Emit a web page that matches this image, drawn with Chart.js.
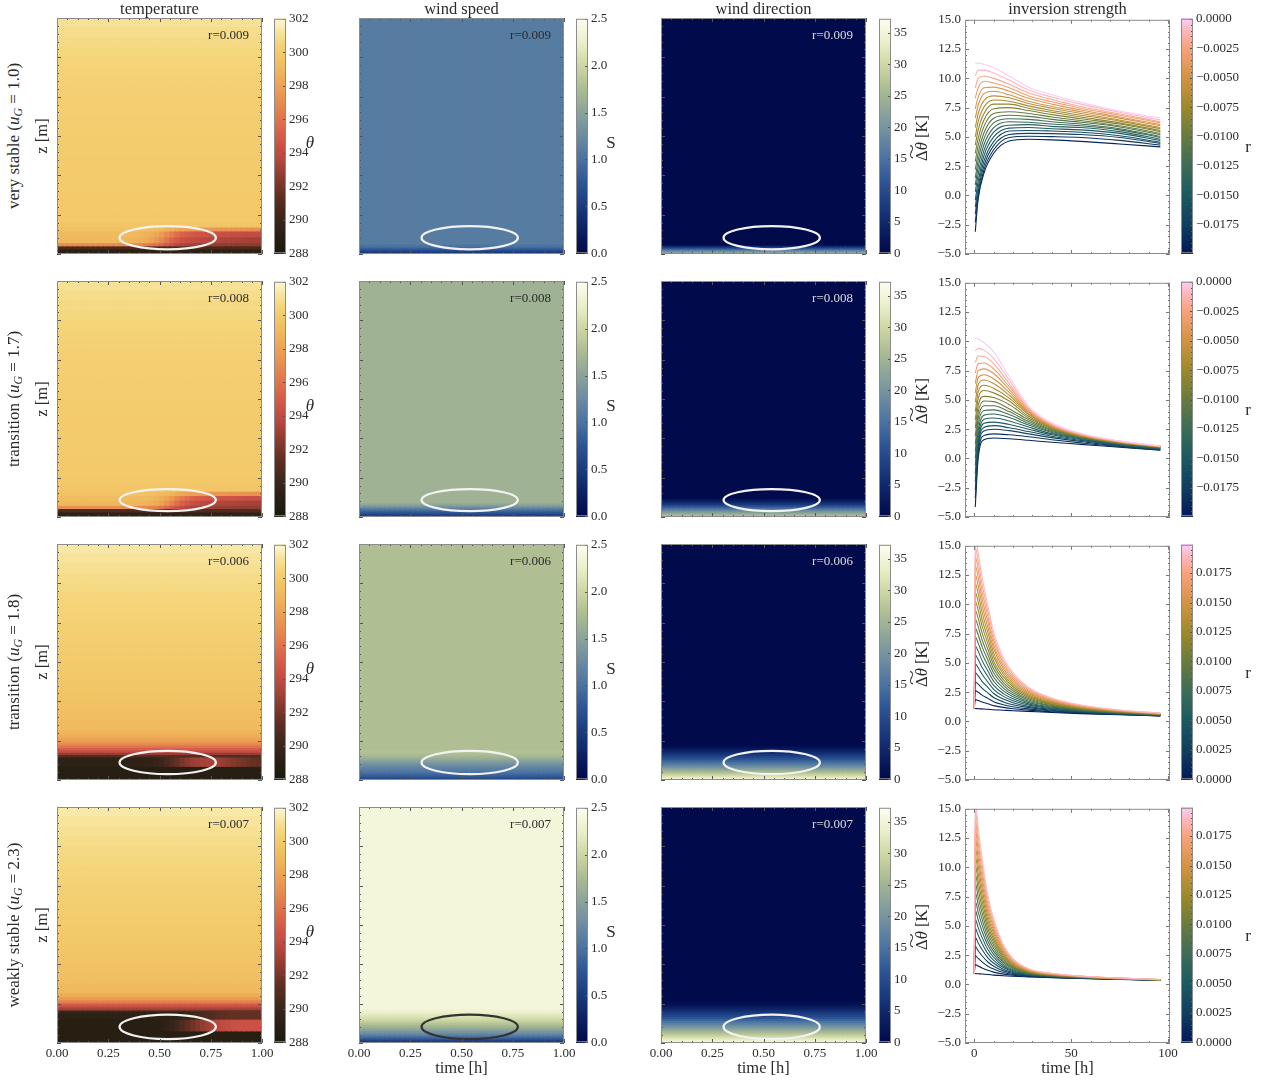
<!DOCTYPE html>
<html>
<head>
<meta charset="UTF-8">
<title>Inversion panels</title>
<script src="https://cdn.jsdelivr.net/npm/chart.js"></script>
<style>
  body { margin: 0; background: #fff; font-family: "Liberation Serif", "DejaVu Serif", serif; color: #2b2b2b; }
  #fig { position: relative; width: 1270px; height: 1083px; overflow: hidden; background: #fff; }
  .box { position: absolute; }
  .lbl { position: absolute; white-space: nowrap; font-size: 16.5px; line-height: 1; color: #2b2b2b; }
  .ctr { transform: translate(-50%, -50%); }
  .rot { transform: translate(-50%, -50%) rotate(-90deg); }
  sub { font-size: 0.7em; vertical-align: -0.25em; }
  .tl { position: relative; display: inline-block; }
  .tl .tw { position: absolute; left: 0; right: 0; top: -0.62em; text-align: center; transform: scaleX(1.7); }
</style>
</head>
<body>
<div id="fig"></div>
<script>
// ---------------- data ----------------
const colTitles = ['temperature', 'wind speed', 'wind direction', 'inversion strength'];
const rowNames = ['very stable', 'transition', 'transition', 'weakly stable'];
const rowUG = ['1.0', '1.7', '1.8', '2.3'];
const rowR = ['0.009', '0.008', '0.006', '0.007'];

// time bins (centres, normalised time) of the heat maps
const timeBins = [0.0125, 0.0375, 0.0625, 0.0875, 0.1125, 0.1375, 0.1625, 0.1875, 0.2125, 0.2375,
                  0.2625, 0.2875, 0.3125, 0.3375, 0.3625, 0.3875, 0.4125, 0.4375, 0.4625, 0.4875,
                  0.5125, 0.5375, 0.5625, 0.5875, 0.6125, 0.6375, 0.6625, 0.6875, 0.7125, 0.7375,
                  0.7625, 0.7875, 0.8125, 0.8375, 0.8625, 0.8875, 0.9125, 0.9375, 0.9625, 0.9875];
const timeTicks = [0, 0.25, 0.5, 0.75, 1];
const heightTicks = [0, 10, 20, 30, 40, 50, 60];

// heat map bands: [z bottom, z top, value (one, or one per time bin)]
const tempVS = [
  [0, 1.0, 289.2], [1.0, 1.8, 290.6],
  [1.8, 2.6, [297.0,297.0,297.0,297.0,297.0,297.0,297.0,297.0,297.0,297.0,297.0,297.0,296.95,296.9,296.85,296.8,296.6,296.4,296.1,295.8,
              295.3,294.8,294.3,293.8,293.4,293.2,293.05,292.95,292.9,292.85,292.8,292.75,292.7,292.7,292.65,292.6,292.6,292.6,292.6,292.6]],
  [2.6, 4.1, [299.0,299.0,299.0,299.0,299.0,299.0,299.0,299.0,299.0,299.0,299.0,299.0,298.95,298.9,298.85,298.8,298.65,298.4,298.0,297.5,
              296.9,296.1,295.4,294.8,294.4,294.2,294.0,293.9,293.8,293.7,293.6,293.5,293.4,293.35,293.3,293.25,293.2,293.15,293.1,293.1]],
  [4.1, 5.6, [299.2,299.2,299.2,299.2,299.2,299.2,299.2,299.2,299.2,299.2,299.2,299.2,299.15,299.1,299.05,299.0,298.9,298.7,298.45,298.1,
              297.6,297.0,296.4,295.8,295.3,295.0,294.8,294.65,294.55,294.45,294.4,294.35,294.3,294.25,294.2,294.15,294.1,294.05,294.0,294.0]],
  [5.6, 6.6, [299.6,299.6,299.6,299.6,299.6,299.6,299.6,299.6,299.6,299.6,299.6,299.6,299.6,299.6,299.55,299.5,299.45,299.4,299.3,299.15,
              298.95,298.7,298.45,298.2,298.0,297.85,297.75,297.65,297.6,297.55,297.5,297.45,297.4,297.35,297.3,297.3,297.25,297.2,297.2,297.2]],
  [6.6, 8, 299.75], [8, 10, 299.85], [10, 15, 299.92], [15, 20, 299.97], [20, 25, 300.02], [25, 30, 300.07],
  [30, 35, 300.12], [35, 40, 300.18], [40, 42.5, 300.25], [42.5, 45, 300.33], [45, 47.5, 300.42], [47.5, 50, 300.52],
  [50, 52.5, 300.63], [52.5, 55, 300.75], [55, 57.5, 300.9], [57.5, 60, 301.1]
];
const tempT1 = [
  [0, 1.0, 289.3], [1.0, 1.9, 290.8],
  [1.9, 2.7, [297.2,297.2,297.2,297.2,297.2,297.2,297.2,297.2,297.2,297.2,297.2,297.2,297.2,297.2,297.15,297.1,297.0,296.9,296.7,296.5,
              296.1,295.6,295.0,294.5,294.0,293.6,293.3,293.1,293.0,292.95,292.9,292.85,292.8,292.8,292.75,292.7,292.7,292.7,292.7,292.7]],
  [2.7, 4.0, [299.0,299.0,299.0,299.0,299.0,299.0,299.0,299.0,299.0,299.0,299.0,299.0,299.0,299.0,298.95,298.9,298.85,298.75,298.6,298.35,
              297.9,297.3,296.6,295.9,295.2,294.7,294.3,294.05,293.85,293.7,293.6,293.5,293.45,293.4,293.35,293.3,293.25,293.2,293.2,293.2]],
  [4.0, 5.2, [299.3,299.3,299.3,299.3,299.3,299.3,299.3,299.3,299.3,299.3,299.3,299.3,299.3,299.3,299.25,299.2,299.15,299.1,299.0,298.8,
              298.5,298.1,297.5,296.9,296.3,295.8,295.4,295.1,294.95,294.8,294.7,294.6,294.55,294.5,294.45,294.4,294.35,294.3,294.3,294.3]],
  [5.2, 6.3, [299.6,299.6,299.6,299.6,299.6,299.6,299.6,299.6,299.6,299.6,299.6,299.6,299.6,299.6,299.6,299.6,299.55,299.5,299.45,299.35,
              299.2,299.0,298.75,298.5,298.25,298.05,297.9,297.8,297.7,297.65,297.6,297.55,297.5,297.45,297.4,297.4,297.35,297.3,297.3,297.3]],
  [6.3, 8, 299.75], [8, 10, 299.85], [10, 15, 299.92], [15, 20, 299.97], [20, 25, 300.02], [25, 30, 300.07],
  [30, 35, 300.12], [35, 40, 300.18], [40, 42.5, 300.25], [42.5, 45, 300.33], [45, 47.5, 300.42], [47.5, 50, 300.52],
  [50, 52.5, 300.63], [52.5, 55, 300.75], [55, 57.5, 300.9], [57.5, 60, 301.1]
];
const tempT2 = [
  [0, 3.2, 289.0],
  [3.2, 5.6, [289.3,289.3,289.3,289.3,289.3,289.3,289.3,289.3,289.3,289.3,289.3,289.3,289.3,289.3,289.3,289.3,289.35,289.45,289.6,289.8,
              290.1,290.5,291.0,291.5,292.0,292.45,292.8,293.0,293.15,293.2,293.15,293.0,292.8,292.55,292.3,292.1,291.9,291.7,291.55,291.4]],
  [5.6, 6.2, 290.8], [6.2, 6.8, 292.8], [6.8, 7.4, 294.2], [7.4, 8.0, 295.1], [8.0, 8.6, 296.0],
  [8.6, 9.2, 296.9], [9.2, 9.8, 297.5], [9.8, 10.6, 298.0], [10.6, 11.5, 298.5], [11.5, 12.5, 298.85],
  [12.5, 15, 299.1], [15, 17.5, 299.35], [17.5, 20, 299.5], [20, 22.5, 299.63], [22.5, 25, 299.74],
  [25, 27.5, 299.84], [27.5, 30, 299.93], [30, 32.5, 300.02], [32.5, 35, 300.1], [35, 37.5, 300.19],
  [37.5, 40, 300.28], [40, 42.5, 300.38], [42.5, 45, 300.48], [45, 47.5, 300.6], [47.5, 50, 300.72],
  [50, 52.5, 300.85], [52.5, 55, 300.99], [55, 57.5, 301.15], [57.5, 60, 301.35]
];
const tempWS = [
  [0, 2.8, 289.0],
  [2.8, 5.8, [289.0,289.0,289.0,289.0,289.0,289.0,289.0,289.0,289.0,289.0,289.0,289.0,289.0,289.0,289.0,289.0,289.0,289.0,289.0,289.0,
              289.2,289.45,289.8,290.25,290.8,291.3,291.8,292.25,292.7,293.05,293.4,293.7,293.95,294.1,294.25,294.35,294.4,294.4,294.4,294.4]],
  [5.8, 7.9, [289.3,289.3,289.3,289.3,289.3,289.3,289.3,289.3,289.3,289.3,289.3,289.3,289.3,289.3,289.3,289.3,289.3,289.3,289.3,289.3,
              289.3,289.3,289.3,289.3,289.55,289.8,290.05,290.3,290.55,290.8,291.0,291.2,291.35,291.45,291.5,291.5,291.5,291.5,291.5,291.5]],
  [7.9, 8.3, 291.8], [8.3, 8.9, 293.3], [8.9, 9.6, 294.4], [9.6, 10.1, 295.6], [10.1, 10.7, 296.7],
  [10.7, 11.5, 297.6], [11.5, 12.5, 298.4], [12.5, 15, 299.05], [15, 17.5, 299.35], [17.5, 20, 299.52],
  [20, 22.5, 299.65], [22.5, 25, 299.76], [25, 27.5, 299.86], [27.5, 30, 299.95], [30, 32.5, 300.04],
  [32.5, 35, 300.12], [35, 37.5, 300.21], [37.5, 40, 300.31], [40, 42.5, 300.41], [42.5, 45, 300.51],
  [45, 47.5, 300.63], [47.5, 50, 300.75], [50, 52.5, 300.89], [52.5, 55, 301.03], [55, 57.5, 301.2], [57.5, 60, 301.4]
];
const speedVS = [[0, 0.5, 0.5], [0.5, 1, 0.68], [1, 1.5, 0.85], [1.5, 2.2, 1.0], [2.2, 60, 1.1]];
const speedT1 = [[0, 0.5, 0.55], [0.5, 1, 0.7], [1, 1.5, 0.85], [1.5, 2, 1.05], [2, 2.5, 1.25],
                 [2.5, 3, 1.45], [3, 3.5, 1.58], [3.5, 60, 1.66]];
const speedT2 = [[0, 0.5, 0.65], [0.5, 1, 0.8], [1, 1.5, 0.9], [1.5, 2, 1.0], [2, 2.5, 1.08], [2.5, 3, 1.15],
                 [3, 3.5, 1.22], [3.5, 4, 1.3], [4, 4.5, 1.4], [4.5, 5, 1.5], [5, 5.5, 1.6], [5.5, 6, 1.68],
                 [6, 6.5, 1.75], [6.5, 7, 1.8], [7, 7.5, 1.81], [7.5, 60, 1.78]];
const speedWS = [[0, 0.5, 0.5], [0.5, 1, 0.72], [1, 1.5, 0.92], [1.5, 2, 1.1], [2, 2.5, 1.25], [2.5, 3, 1.38],
                 [3, 3.5, 1.5], [3.5, 4, 1.62], [4, 4.5, 1.72], [4.5, 5, 1.82], [5, 5.5, 1.92], [5.5, 6, 2.0],
                 [6, 6.5, 2.08], [6.5, 7, 2.15], [7, 7.5, 2.22], [7.5, 8, 2.28], [8, 8.5, 2.33], [8.5, 60, 2.37]];
const dirVS = [[0, 0.5, 22], [0.5, 1, 17], [1, 1.5, 11], [1.5, 2, 5], [2, 60, 0.3]];
const dirT1 = [[0, 0.5, 26], [0.5, 1, 23], [1, 1.5, 20], [1.5, 2, 16.5], [2, 2.5, 13], [2.5, 3, 9.5],
               [3, 3.5, 6.5], [3.5, 4, 4], [4, 4.5, 2], [4.5, 60, 0.3]];
const dirT2 = [[0, 0.5, 34], [0.5, 1, 31.5], [1, 1.5, 29], [1.5, 2, 26.5], [2, 2.5, 24], [2.5, 3, 21.5],
               [3, 3.5, 19], [3.5, 4, 16.8], [4, 4.5, 14.7], [4.5, 5, 12.7], [5, 5.5, 10.8], [5.5, 6, 9],
               [6, 6.5, 7.2], [6.5, 7, 5.5], [7, 7.5, 3.9], [7.5, 8, 2.5], [8, 8.5, 1.3], [8.5, 60, 0.3]];
const dirWS = [[0, 0.5, 35], [0.5, 1, 33], [1, 1.5, 31], [1.5, 2, 29], [2, 2.5, 27], [2.5, 3, 25],
               [3, 3.5, 23], [3.5, 4, 21], [4, 4.5, 19], [4.5, 5, 17], [5, 5.5, 15], [5.5, 6, 13],
               [6, 6.5, 11.2], [6.5, 7, 9.5], [7, 7.5, 8], [7.5, 8, 6.5], [8, 8.5, 5], [8.5, 9, 3.7],
               [9, 9.5, 2.5], [9.5, 10, 1.5], [10, 10.5, 0.7], [10.5, 60, 0.3]];

// marked region per row: [centre time, centre z, half width, half height]
const ellipseRows = [[0.54, 4.15, 0.235, 2.95], [0.54, 4.3, 0.235, 2.8],
                     [0.54, 4.45, 0.235, 2.95], [0.54, 4.1, 0.235, 3.1]];

// inversion strength, rows 1-2: one array per r (0, -0.001 ... -0.019) at invTimesA
const invTimesA = [0.5, 2, 5, 10, 18, 28, 40, 55, 75, 96];
const rNeg = [0, -0.001, -0.002, -0.003, -0.004, -0.005, -0.006, -0.007, -0.008, -0.009,
              -0.010, -0.011, -0.012, -0.013, -0.014, -0.015, -0.016, -0.017, -0.018, -0.019];
const invVS = [
  [11.3, 11.3, 11.2, 10.9, 10.2, 9.25, 8.6, 7.95, 7.2, 6.6],
  [10.2, 10.7, 10.7, 10.45, 9.85, 9.0, 8.4, 7.8, 7.1, 6.45],
  [9.2, 10.0, 10.2, 10.0, 9.5, 8.75, 8.2, 7.6, 6.95, 6.3],
  [8.3, 9.2, 9.75, 9.6, 9.2, 8.5, 8.0, 7.45, 6.85, 6.2],
  [7.4, 8.4, 9.2, 9.25, 8.9, 8.3, 7.8, 7.3, 6.7, 6.05],
  [6.6, 7.7, 8.7, 8.9, 8.6, 8.05, 7.6, 7.15, 6.6, 5.95],
  [5.8, 7.0, 8.1, 8.5, 8.35, 7.85, 7.45, 7.0, 6.45, 5.8],
  [5.0, 6.3, 7.55, 8.15, 8.05, 7.65, 7.25, 6.85, 6.35, 5.7],
  [4.3, 5.6, 7.0, 7.8, 7.8, 7.45, 7.1, 6.7, 6.2, 5.55],
  [3.6, 4.9, 6.45, 7.4, 7.5, 7.25, 6.9, 6.55, 6.1, 5.45],
  [2.9, 4.25, 5.9, 7.0, 7.15, 7.0, 6.7, 6.4, 5.95, 5.3],
  [2.2, 3.6, 5.35, 6.6, 6.85, 6.75, 6.5, 6.25, 5.85, 5.2],
  [1.5, 3.0, 4.85, 6.2, 6.55, 6.5, 6.3, 6.1, 5.7, 5.05],
  [0.9, 2.4, 4.35, 5.8, 6.3, 6.25, 6.1, 5.95, 5.6, 4.95],
  [0.3, 1.8, 3.85, 5.4, 6.0, 6.05, 5.9, 5.8, 5.45, 4.8],
  [-0.4, 1.2, 3.4, 5.0, 5.75, 5.8, 5.7, 5.6, 5.3, 4.7],
  [-1.0, 0.7, 2.95, 4.6, 5.5, 5.55, 5.5, 5.4, 5.1, 4.55],
  [-1.6, 0.3, 2.55, 4.25, 5.2, 5.3, 5.28, 5.2, 4.95, 4.45],
  [-2.3, -0.1, 2.2, 3.9, 4.95, 5.05, 5.02, 4.95, 4.7, 4.3],
  [-3.1, -0.3, 1.9, 3.6, 4.65, 4.8, 4.75, 4.62, 4.4, 4.15]
];
const invT1 = [
  [10.25, 10.2, 9.9, 9.1, 7.0, 4.5, 3.05, 2.15, 1.5, 1.07],
  [9.2, 9.4, 9.25, 8.55, 6.7, 4.35, 2.95, 2.1, 1.48, 1.05],
  [8.2, 8.75, 8.7, 8.1, 6.4, 4.25, 2.9, 2.07, 1.46, 1.04],
  [7.3, 8.1, 8.15, 7.65, 6.15, 4.15, 2.85, 2.04, 1.44, 1.03],
  [6.4, 7.5, 7.65, 7.25, 5.9, 4.05, 2.8, 2.01, 1.42, 1.02],
  [5.6, 6.9, 7.15, 6.8, 5.65, 3.95, 2.75, 1.98, 1.4, 1.01],
  [4.8, 6.3, 6.7, 6.4, 5.4, 3.85, 2.7, 1.95, 1.38, 1.0],
  [4.0, 5.7, 6.25, 6.0, 5.15, 3.75, 2.65, 1.92, 1.36, 0.99],
  [3.3, 5.1, 5.8, 5.6, 4.9, 3.6, 2.6, 1.9, 1.34, 0.98],
  [2.6, 4.5, 5.3, 5.2, 4.6, 3.45, 2.52, 1.87, 1.33, 0.97],
  [1.9, 3.95, 4.9, 4.85, 4.25, 3.3, 2.45, 1.85, 1.32, 0.95],
  [1.2, 3.4, 4.5, 4.5, 4.0, 3.15, 2.38, 1.82, 1.3, 0.93],
  [0.6, 2.9, 4.1, 4.15, 3.75, 3.0, 2.3, 1.78, 1.27, 0.9],
  [0.0, 2.4, 3.7, 3.8, 3.5, 2.85, 2.22, 1.74, 1.24, 0.88],
  [-0.6, 2.0, 3.35, 3.45, 3.2, 2.68, 2.12, 1.68, 1.2, 0.85],
  [-1.3, 1.6, 3.0, 3.1, 2.9, 2.5, 2.02, 1.62, 1.15, 0.82],
  [-2.0, 1.2, 2.65, 2.8, 2.62, 2.3, 1.9, 1.54, 1.1, 0.79],
  [-2.7, 0.8, 2.35, 2.5, 2.38, 2.1, 1.78, 1.45, 1.05, 0.76],
  [-3.4, 0.4, 1.95, 2.1, 2.02, 1.85, 1.6, 1.33, 1.0, 0.73],
  [-4.15, 0.0, 1.6, 1.75, 1.68, 1.55, 1.38, 1.2, 0.95, 0.7]
];

// inversion strength, rows 3-4: one array per sample time (invTimesB), values for r = 0 ... 0.019
const invTimesB = [0, 0.5, 2, 4, 7, 10, 15, 20, 28, 40, 55, 75, 96];
const rPos = [0, 0.001, 0.002, 0.003, 0.004, 0.005, 0.006, 0.007, 0.008, 0.009,
              0.010, 0.011, 0.012, 0.013, 0.014, 0.015, 0.016, 0.017, 0.018, 0.019];
const invT2 = [
  [1.1,1.1,1.1,1.1,1.1,1.1,1.1,1.1,1.1,1.1,1.1,1.1,1.1,1.1,1.1,1.1,1.1,1.1,1.1,1.1],
  [1.10,1.86,2.63,3.39,4.16,4.92,5.68,6.44,7.21,7.97,8.73,9.50,10.26,11.02,11.79,12.55,13.31,14.08,14.84,15.60],
  [1.09,1.79,2.49,3.19,3.89,4.59,5.29,5.99,6.69,7.40,8.10,8.80,9.50,10.20,10.90,11.60,12.30,13.00,13.70,14.40],
  [1.07,1.66,2.25,2.84,3.43,4.03,4.62,5.21,5.80,6.39,6.98,7.57,8.16,8.75,9.34,9.94,10.53,11.12,11.71,12.30],
  [1.04,1.51,1.97,2.44,2.91,3.37,3.84,4.30,4.77,5.24,5.70,6.17,6.64,7.10,7.57,8.03,8.50,8.97,9.43,9.90],
  [1.00,1.35,1.69,2.04,2.39,2.74,3.08,3.43,3.78,4.13,4.47,4.82,5.17,5.52,5.86,6.21,6.56,6.91,7.25,7.60],
  [0.96,1.20,1.43,1.67,1.91,2.14,2.38,2.61,2.85,3.09,3.32,3.56,3.80,4.03,4.27,4.50,4.74,4.98,5.21,5.45],
  [0.92,1.09,1.26,1.43,1.60,1.77,1.94,2.11,2.28,2.45,2.62,2.79,2.96,3.13,3.30,3.47,3.64,3.81,3.98,4.15],
  [0.86,0.97,1.07,1.18,1.29,1.40,1.50,1.61,1.72,1.83,1.93,2.04,2.15,2.26,2.36,2.47,2.58,2.69,2.79,2.90],
  [0.77,0.83,0.90,0.96,1.03,1.09,1.16,1.22,1.29,1.35,1.42,1.48,1.55,1.61,1.68,1.74,1.81,1.87,1.94,2.00],
  [0.67,0.71,0.75,0.79,0.82,0.86,0.90,0.94,0.98,1.02,1.05,1.09,1.13,1.17,1.21,1.25,1.28,1.32,1.36,1.40],
  [0.57,0.59,0.61,0.63,0.66,0.68,0.70,0.72,0.74,0.76,0.79,0.81,0.83,0.85,0.87,0.89,0.92,0.94,0.96,0.98],
  [0.47,0.48,0.50,0.51,0.52,0.54,0.55,0.56,0.57,0.59,0.60,0.61,0.62,0.64,0.65,0.66,0.67,0.69,0.70,0.71]
];
const invWS = [
  [0.93,0.93,0.93,0.93,0.93,0.93,0.93,0.93,0.93,0.93,0.93,0.93,0.93,0.93,0.93,0.93,0.93,0.93,0.93,0.93],
  [0.93,1.70,2.47,3.25,4.02,4.79,5.56,6.33,7.11,7.88,8.65,9.42,10.20,10.97,11.74,12.51,13.28,14.06,14.83,15.60],
  [0.91,1.57,2.22,2.88,3.54,4.20,4.85,5.51,6.17,6.83,7.48,8.14,8.80,9.46,10.11,10.77,11.43,12.09,12.74,13.40],
  [0.89,1.41,1.93,2.45,2.98,3.50,4.02,4.54,5.06,5.58,6.11,6.63,7.15,7.67,8.19,8.71,9.24,9.76,10.28,10.80],
  [0.85,1.21,1.56,1.92,2.27,2.63,2.98,3.34,3.69,4.05,4.40,4.76,5.11,5.47,5.82,6.18,6.53,6.89,7.24,7.60],
  [0.80,1.05,1.31,1.56,1.81,2.06,2.32,2.57,2.82,3.07,3.33,3.58,3.83,4.08,4.34,4.59,4.84,5.09,5.35,5.60],
  [0.74,0.88,1.02,1.16,1.30,1.44,1.58,1.72,1.86,2.00,2.14,2.28,2.42,2.56,2.70,2.84,2.98,3.12,3.26,3.40],
  [0.70,0.78,0.86,0.94,1.02,1.09,1.17,1.25,1.33,1.41,1.49,1.57,1.65,1.73,1.80,1.88,1.96,2.04,2.12,2.20],
  [0.65,0.69,0.72,0.76,0.80,0.83,0.87,0.91,0.94,0.98,1.02,1.05,1.09,1.13,1.17,1.20,1.24,1.28,1.31,1.35],
  [0.58,0.60,0.62,0.64,0.66,0.68,0.70,0.72,0.74,0.76,0.77,0.79,0.81,0.83,0.85,0.87,0.89,0.91,0.93,0.95],
  [0.51,0.52,0.53,0.54,0.55,0.57,0.58,0.59,0.60,0.61,0.62,0.63,0.64,0.65,0.66,0.67,0.69,0.70,0.71,0.72],
  [0.43,0.44,0.44,0.45,0.46,0.46,0.47,0.47,0.48,0.49,0.49,0.50,0.51,0.51,0.52,0.52,0.53,0.54,0.54,0.55],
  [0.36,0.36,0.37,0.37,0.37,0.38,0.38,0.38,0.39,0.39,0.39,0.39,0.40,0.40,0.40,0.41,0.41,0.41,0.42,0.42]
];
const invXTicks = [0, 50, 100];
const invYTicks = [-5, -2.5, 0, 2.5, 5, 7.5, 10, 12.5, 15];

// colour bar ranges and ticks
const thetaRange = [288, 302], thetaTicks = [288, 290, 292, 294, 296, 298, 300, 302];
const speedRange = [0, 2.5], speedTicks = [0, 0.5, 1, 1.5, 2, 2.5];
const dirRange = [0, 37.2], dirTicks = [0, 5, 10, 15, 20, 25, 30, 35];
const rNegRange = [-0.0199, 0], rNegTicks = [-0.0175, -0.015, -0.0125, -0.01, -0.0075, -0.005, -0.0025, 0];
const rPosRange = [0, 0.0199], rPosTicks = [0, 0.0025, 0.005, 0.0075, 0.01, 0.0125, 0.015, 0.0175];

// ---------------- colour maps ----------------
const cmTheta = [[0,'#19190b'],[0.08,'#2a2014'],[0.16,'#40271b'],[0.24,'#5f2e22'],[0.32,'#8a3a2e'],
  [0.40,'#b5473e'],[0.46,'#cc5146'],[0.52,'#d9614a'],[0.60,'#e37d4e'],[0.68,'#ea9852'],
  [0.76,'#efb159'],[0.84,'#f2c666'],[0.90,'#f5d67c'],[0.95,'#f8e6a2'],[1,'#fdf8d4']];
const cmDavos = [[0,'#00094a'],[0.1,'#0b2163'],[0.2,'#1a3a80'],[0.3,'#2c5494'],[0.4,'#4a72a2'],
  [0.5,'#6a8ba3'],[0.6,'#8aa39a'],[0.7,'#abbc91'],[0.8,'#cdd7a3'],[0.9,'#ebefc8'],[1,'#fdfdf2']];
const cmBatlow = [[0,'#011959'],[0.125,'#103f60'],[0.25,'#1c5a62'],[0.375,'#3c6d56'],[0.5,'#687b3e'],
  [0.625,'#9d892b'],[0.75,'#d29343'],[0.875,'#f8a17b'],[0.95,'#fdb7bc'],[1,'#faccfa']];

function hexRgb(h) { return [1, 3, 5].map(i => parseInt(h.substr(i, 2), 16)); }
function colorAt(stops, f) {
  f = Math.max(0, Math.min(1, f));
  for (let i = 1; i < stops.length; i++) {
    if (f <= stops[i][0]) {
      const u = (f - stops[i - 1][0]) / (stops[i][0] - stops[i - 1][0]);
      const a = hexRgb(stops[i - 1][1]), b = hexRgb(stops[i][1]);
      return 'rgb(' + a.map((c, j) => Math.round(c + (b[j] - c) * u)).join(',') + ')';
    }
  }
  return stops[stops.length - 1][1];
}

// ---------------- layout ----------------
const W = 205, H = 236;
const colL = [57, 359, 661, 965];
const rowT = [18, 281, 544, 807];
const cbL = [274, 576, 879, 1181];
const CBW = 12;
const fig = document.getElementById('fig');

Chart.defaults.font.family = '"Liberation Serif", "DejaVu Serif", serif';
Chart.defaults.font.size = 13;
Chart.defaults.color = '#2b2b2b';

function canvasAt(x, y, w, h) {
  const d = document.createElement('div');
  d.className = 'box';
  d.style.left = x + 'px'; d.style.top = y + 'px';
  d.style.width = w + 'px'; d.style.height = h + 'px';
  const c = document.createElement('canvas');
  c.width = w; c.height = h;
  c.style.width = w + 'px'; c.style.height = h + 'px';
  d.appendChild(c);
  fig.appendChild(d);
  return c;
}

function label(html, x, y, cls, size) {
  const d = document.createElement('div');
  d.className = 'lbl ' + cls;
  d.style.left = x + 'px'; d.style.top = y + 'px';
  if (size) d.style.fontSize = size + 'px';
  d.innerHTML = html;
  fig.appendChild(d);
}

const minus = v => (v < 0 ? '\u2212' : '');
const fmt1 = v => minus(v) + Math.abs(v).toFixed(1);
const fmt4 = v => minus(v) + Math.abs(v).toFixed(4);

// minor ticks: five per major interval
function minorsOf(majors, min, max) {
  const step = (majors[1] - majors[0]) / 5, out = [];
  for (let k = -60; k <= 5 * (majors.length - 1) + 60; k++) {
    if (k % 5 === 0) continue;
    const v = majors[0] + k * step;
    if (v > min + 1e-9 && v < max - 1e-9) out.push(v);
  }
  return out;
}

// frame plus inward ticks
const framePlugin = {
  id: 'frame',
  afterDatasetsDraw(chart, args, o) {
    const { ctx, chartArea: a } = chart;
    ctx.save();
    ctx.lineWidth = 1;
    ctx.strokeStyle = o.tickColor || '#555';
    ctx.beginPath();
    const put = (scale, v, len) => {
      const p = Math.round(scale.getPixelForValue(v)) + 0.5;
      if (scale.isHorizontal()) {
        ctx.moveTo(p, a.bottom); ctx.lineTo(p, a.bottom - len);
        ctx.moveTo(p, a.top); ctx.lineTo(p, a.top + len);
      } else {
        if (o.sides !== 'right') { ctx.moveTo(a.left, p); ctx.lineTo(a.left + len, p); }
        ctx.moveTo(a.right, p); ctx.lineTo(a.right - len, p);
      }
    };
    [o.x, o.y].forEach(id => {
      if (!id) return;
      const s = chart.scales[id];
      const majors = s.ticks.map(t => t.value);
      majors.forEach(v => put(s, v, o.major || 4));
      if (o.minor !== false) minorsOf(majors, s.min, s.max).forEach(v => put(s, v, o.minorLen || 2));
    });
    ctx.stroke();
    ctx.strokeStyle = '#8c8c8c';
    ctx.strokeRect(a.left + 0.5, a.top + 0.5, a.right - a.left - 1, a.bottom - a.top - 1);
    ctx.restore();
  }
};

const ellipsePlugin = {
  id: 'ellipse',
  afterDatasetsDraw(chart, args, o) {
    if (!o.e) return;
    const xs = chart.scales.t, ys = chart.scales.y, [cx, cz, rx, rz] = o.e;
    const px = xs.getPixelForValue(cx), py = ys.getPixelForValue(cz);
    const prx = Math.abs(xs.getPixelForValue(cx + rx) - px);
    const pry = Math.abs(ys.getPixelForValue(cz + rz) - py);
    const ctx = chart.ctx;
    ctx.save();
    ctx.strokeStyle = o.color; ctx.lineWidth = 2.2;
    ctx.beginPath(); ctx.ellipse(px, py, prx, pry, 0, 0, 2 * Math.PI); ctx.stroke();
    ctx.restore();
  }
};

const cornerPlugin = {
  id: 'corner',
  afterDraw(chart, args, o) {
    const { ctx, chartArea: a } = chart;
    ctx.save();
    ctx.font = '13px "Liberation Serif", serif';
    ctx.fillStyle = o.color;
    ctx.textAlign = 'right'; ctx.textBaseline = 'middle';
    ctx.fillText(o.text, a.right - 13, a.top + 18);
    ctx.restore();
  }
};

const cbarPlugin = {
  id: 'cbar',
  beforeDatasetsDraw(chart, args, o) {
    const { ctx, chartArea: a } = chart, ys = chart.scales.y;
    for (let p = Math.floor(a.top); p < Math.ceil(a.bottom); p++) {
      const v = ys.getValueForPixel(p + 0.5);
      ctx.fillStyle = colorAt(o.stops, (v - o.range[0]) / (o.range[1] - o.range[0]));
      ctx.fillRect(a.left, p, a.right - a.left, 1);
    }
  }
};

const base = { responsive: false, animation: false, devicePixelRatio: 1, events: [] };

function heatmap(col, row, bands, stops, range, ellColor, textColor) {
  const padL = 30, padR = 18, padT = 10, padB = 24;
  const cv = canvasAt(colL[col] - padL, rowT[row] - padT, W + padL + padR, H + padT + padB);
  const datasets = bands.map(b => {
    const vals = Array.isArray(b[2]) ? b[2] : timeBins.map(() => b[2]);
    return {
      data: timeBins.map(() => [b[0], b[1]]),
      backgroundColor: vals.map(v => colorAt(stops, (v - range[0]) / (range[1] - range[0])))
    };
  });
  new Chart(cv, {
    type: 'bar',
    data: { labels: timeBins.map(String), datasets },
    options: Object.assign({}, base, {
      layout: { padding: { left: 0, right: padR, top: padT, bottom: 0 } },
      datasets: { bar: { grouped: false, barPercentage: 1, categoryPercentage: 1, borderWidth: 0, inflateAmount: 0.5 } },
      scales: {
        x: { display: false },
        t: {
          axis: 'x', type: 'linear', position: 'bottom', min: 0, max: 1, offset: false,
          afterBuildTicks: s => { s.ticks = timeTicks.map(v => ({ value: v })); },
          ticks: { display: row === 3, padding: 3, maxRotation: 0, callback: v => v.toFixed(2) },
          grid: { display: false, drawTicks: false, offset: false }, border: { display: false },
          afterFit: s => { s.height = padB; }
        },
        y: {
          type: 'linear', min: 0, max: 60,
          afterBuildTicks: s => { s.ticks = heightTicks.map(v => ({ value: v })); },
          ticks: { display: false }, grid: { display: false, drawTicks: false }, border: { display: false },
          afterFit: s => { s.width = padL; }
        }
      },
      plugins: {
        legend: { display: false }, tooltip: { enabled: false },
        ellipse: { e: ellipseRows[row], color: ellColor },
        frame: { x: 't', y: 'y', tickColor: '#555' },
        corner: { text: 'r=' + rowR[row], color: textColor }
      }
    }),
    plugins: [ellipsePlugin, framePlugin, cornerPlugin]
  });
}

function lines(row, times, curves, rs, rRange) {
  const padL = 45, padR = 18, padT = 10, padB = 24;
  const cv = canvasAt(colL[3] - padL, rowT[row] - padT, W + padL + padR, H + padT + padB);
  const datasets = curves.map((ys, k) => {
    const f = (rs[k] - rRange[0]) / (rRange[1] - rRange[0]);
    return {
      data: times.map((t, i) => ({ x: t, y: ys[i] })),
      borderColor: colorAt(cmBatlow, f),
      borderWidth: 1.1, pointRadius: 0, fill: false,
      cubicInterpolationMode: 'monotone',
      order: Math.round((1 - f) * 1000)
    };
  });
  new Chart(cv, {
    type: 'line',
    data: { datasets },
    options: Object.assign({}, base, {
      layout: { padding: { left: 0, right: padR, top: padT, bottom: 0 } },
      scales: {
        x: {
          type: 'linear', min: -4.8, max: 101,
          afterBuildTicks: s => { s.ticks = invXTicks.map(v => ({ value: v })); },
          ticks: { display: row === 3, padding: 3, maxRotation: 0, callback: v => String(v) },
          grid: { display: false, drawTicks: false }, border: { display: false },
          afterFit: s => { s.height = padB; }
        },
        y: {
          type: 'linear', min: -5, max: 15,
          afterBuildTicks: s => { s.ticks = invYTicks.map(v => ({ value: v })); },
          ticks: { padding: 4, callback: v => fmt1(v) },
          grid: { display: false, drawTicks: false }, border: { display: false },
          afterFit: s => { s.width = padL; }
        }
      },
      plugins: {
        legend: { display: false }, tooltip: { enabled: false },
        frame: { x: 'x', y: 'y', tickColor: '#777' }
      }
    }),
    plugins: [framePlugin]
  });
}

function colorbar(col, row, stops, range, ticks, fmt, minor) {
  const padT = 10, axisW = 64;
  const cv = canvasAt(cbL[col], rowT[row] - padT, CBW + axisW, H + 2 * padT);
  new Chart(cv, {
    type: 'scatter',
    data: { datasets: [{ data: [] }] },
    options: Object.assign({}, base, {
      layout: { padding: { left: 0, right: 0, top: padT, bottom: padT } },
      scales: {
        x: { display: false, min: 0, max: 1 },
        y: {
          position: 'right', min: range[0], max: range[1],
          afterBuildTicks: s => { s.ticks = ticks.map(v => ({ value: v })); },
          ticks: { padding: 3, callback: fmt },
          grid: { display: false, drawTicks: false }, border: { display: false },
          afterFit: s => { s.width = axisW; }
        }
      },
      plugins: {
        legend: { display: false }, tooltip: { enabled: false },
        cbar: { stops, range },
        frame: { y: 'y', sides: 'right', minor, major: 3, minorLen: 2, tickColor: '#555' }
      }
    }),
    plugins: [cbarPlugin, framePlugin]
  });
}

// ---------------- build ----------------
const tempRows = [tempVS, tempT1, tempT2, tempWS];
const speedRows = [speedVS, speedT1, speedT2, speedWS];
const dirRows = [dirVS, dirT1, dirT2, dirWS];

function columnsToCurves(cols) { return cols[0].map((_, k) => cols.map(c => c[k])); }

for (let r = 0; r < 4; r++) {
  heatmap(0, r, tempRows[r], cmTheta, thetaRange, '#f2f2f2', '#2b2b2b');
  heatmap(1, r, speedRows[r], cmDavos, speedRange, r === 3 ? '#333333' : '#f2f2f2', '#2b2b2b');
  heatmap(2, r, dirRows[r], cmDavos, dirRange, '#f2f2f2', '#dcdcdc');
  colorbar(0, r, cmTheta, thetaRange, thetaTicks, v => String(v), false);
  colorbar(1, r, cmDavos, speedRange, speedTicks, v => v.toFixed(1), false);
  colorbar(2, r, cmDavos, dirRange, dirTicks, v => String(v), false);
}
lines(0, invTimesA, invVS, rNeg, rNegRange);
lines(1, invTimesA, invT1, rNeg, rNegRange);
lines(2, invTimesB, columnsToCurves(invT2), rPos, rPosRange);
lines(3, invTimesB, columnsToCurves(invWS), rPos, rPosRange);
colorbar(3, 0, cmBatlow, rNegRange, rNegTicks, fmt4, true);
colorbar(3, 1, cmBatlow, rNegRange, rNegTicks, fmt4, true);
colorbar(3, 2, cmBatlow, rPosRange, rPosTicks, fmt4, true);
colorbar(3, 3, cmBatlow, rPosRange, rPosTicks, fmt4, true);

// text around the panels
colTitles.forEach((t, c) => label(t, colL[c] + W / 2, 9, 'ctr'));
const dTheta = '<span class="tl">\u0394<i>\u03b8</i><span class="tw">~</span></span> [K]';
for (let r = 0; r < 4; r++) {
  const mid = rowT[r] + H / 2;
  label(rowNames[r] + ' (<i>u</i><sub><i>G</i></sub> = ' + rowUG[r] + ')', 15, mid, 'rot', 17);
  label('z [m]', 42, mid, 'rot');
  label(dTheta, 922, mid + 2, 'rot');
  label('<i>\u03b8</i>', 310, rowT[r] + 124, 'ctr', 17);
  label('S', 611, rowT[r] + 124, 'ctr', 17);
  label('r', 1248, rowT[r] + 128, 'ctr', 17);
}
[1, 2, 3].forEach(c => label('time [h]', colL[c] + W / 2, 1068, 'ctr'));
</script>
</body>
</html>
